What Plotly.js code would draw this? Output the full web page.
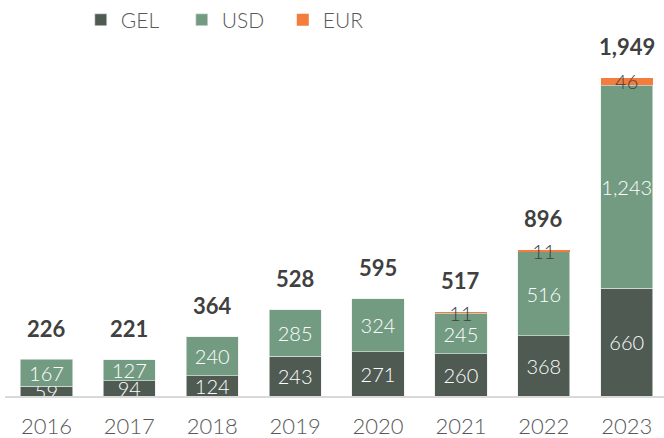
<!DOCTYPE html>
<html><head><meta charset="utf-8">
<script src="https://cdn.plot.ly/plotly-3.0.1.min.js"></script>
<style>html,body{margin:0;padding:0;background:#fff;}#chart{width:664px;height:438px;}</style>
</head><body><div id="chart"></div>
<script>
const years = ['2016','2017','2018','2019','2020','2021','2022','2023'];
const gel = [59, 94, 124, 243, 271, 260, 368, 660];
const usd = [167, 127, 240, 285, 324, 245, 516, 1243];
const eur = [0, 0, 0, 0, 0, 11, 11, 46];
const totals = [226, 221, 364, 528, 595, 517, 896, 1949];

const FONT = 'Lato, "Open Sans", sans-serif';
const fmt = v => v ? v.toLocaleString('en-US') : '';

const traces = [
  {name:'GEL', x:years, y:gel, type:'bar', marker:{color:'#4e5a52', line:{color:'#e8ece9', width:0.6}},
   text:gel.map(fmt), textposition:'inside', insidetextanchor:'middle', textangle:0,
   insidetextfont:{color:'#ffffff', size:20, family:FONT, weight:300}, hoverinfo:'none'},
  {name:'USD', x:years, y:usd, type:'bar', marker:{color:'#739b82', line:{color:'#e8ece9', width:0.6}},
   text:usd.map(fmt), textposition:'inside', insidetextanchor:'middle', textangle:0,
   insidetextfont:{color:'#ffffff', size:20, family:FONT, weight:300}, hoverinfo:'none'},
  {name:'EUR', x:years, y:eur, type:'bar', marker:{color:'#f47c3c'},
   text:eur.map(fmt), textposition:'inside', insidetextanchor:'middle', textangle:0,
   insidetextfont:{color:'#404040', size:20, family:FONT, weight:300}, hoverinfo:'none'}
];

const annotations = years.map((yr, i) => ({
  x: i, y: totals[i], xref:'x', yref:'y', text:'<b>' + totals[i].toLocaleString('en-US') + '</b>',
  showarrow:false, yanchor:'middle', yshift:31,
  font:{family:FONT, size:22, color:'#404040'}
}));

const layout = {
  width:664, height:438,
  margin:{l:5, r:0, t:30, b:42, autoexpand:false},
  barmode:'stack', bargap:0.37,
  paper_bgcolor:'#ffffff', plot_bgcolor:'#ffffff',
  font:{family:FONT, color:'#595959', weight:300},
  uniformtext:{mode:'show', minsize:20},
  xaxis:{type:'category', range:[-0.5, 7.45], showline:true, linecolor:'#d9d9d9', linewidth:2,
    ticks:'', ticklabelstandoff:10, tickfont:{size:22, color:'#595959', family:FONT, weight:300},
    showgrid:false, fixedrange:true},
  yaxis:{range:[0, 2240], visible:false, showgrid:false, zeroline:false, fixedrange:true},
  showlegend:true,
  legend:{orientation:'h', x:0.115, xanchor:'left', y:1.027, yanchor:'middle',
    font:{size:21, color:'#595959', family:FONT, weight:300}, entrywidth:56, entrywidthmode:'pixels',
    traceorder:'normal', itemclick:false},
  annotations: annotations
};

Plotly.newPlot('chart', traces, layout, {displayModeBar:false, staticPlot:true});
</script></body></html>
